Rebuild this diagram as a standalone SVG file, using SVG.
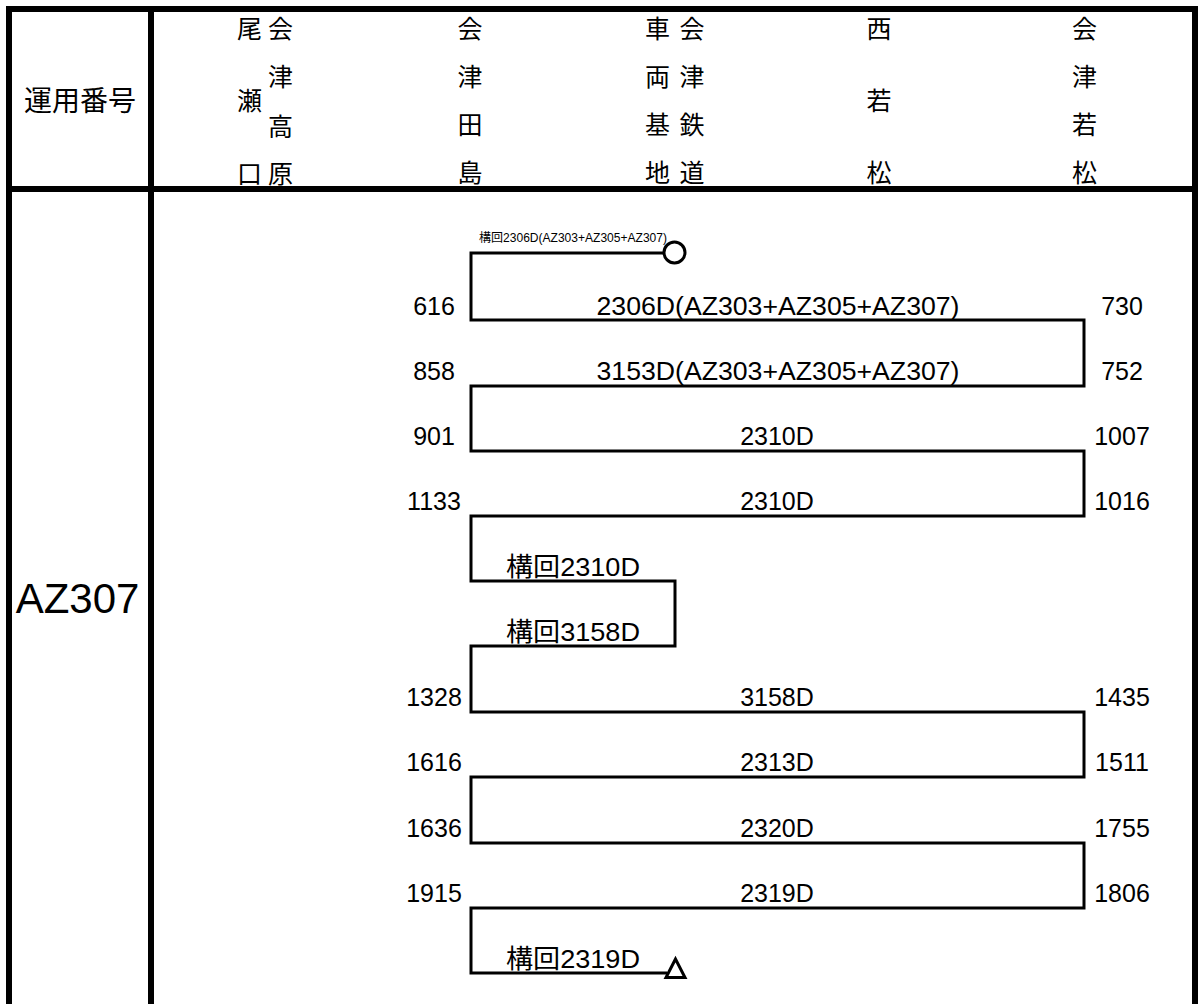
<svg xmlns="http://www.w3.org/2000/svg" width="1200" height="1004" viewBox="0 0 1200 1004">
<style>
.frame{stroke:#000;stroke-width:6;fill:none}
.route{stroke:#000;stroke-width:3;fill:none}
.mark{stroke:#000;stroke-width:3;fill:#fff}
.st{font-family:"Noto Sans CJK JP","Liberation Sans",sans-serif;font-size:25px;text-anchor:middle;dominant-baseline:central;fill:#000}
.hd{font-family:"Noto Sans CJK JP","Liberation Sans",sans-serif;font-size:28px;text-anchor:middle;dominant-baseline:central;fill:#000}
.t{font-family:"Liberation Sans","Noto Sans CJK JP",sans-serif;font-size:25px;text-anchor:middle;fill:#000}
.k{font-family:"Liberation Sans","Noto Sans CJK JP",sans-serif;font-size:26px;fill:#000}
.s{font-family:"Liberation Sans","Noto Sans CJK JP",sans-serif;font-size:12px;fill:#000}
.big{font-family:"Liberation Sans",sans-serif;font-size:42px;text-anchor:middle;fill:#000}
</style>
<rect width="1200" height="1004" fill="#fff"/>
<g id="table">
<path class="frame" d="M9,1004 V9 H1195 V1004 M9,189 H1195 M151,9 V1004"/>
</g>
<g id="header">
<text class="hd" x="80" y="98.5">運用番号</text>
<g id="st-oze">
<text class="st" x="249.5" y="26.5">尾</text>
<text class="st" x="249.5" y="98.5">瀬</text>
<text class="st" x="249.5" y="172">口</text>
<text class="st" x="280.5" y="26.5">会</text>
<text class="st" x="280.5" y="74.5">津</text>
<text class="st" x="280.5" y="124.5">高</text>
<text class="st" x="280.5" y="172">原</text>
</g>
<g id="st-tajima">
<text class="st" x="470" y="26.5">会</text>
<text class="st" x="470" y="74.5">津</text>
<text class="st" x="470" y="123">田</text>
<text class="st" x="470" y="171">島</text>
</g>
<g id="st-depot">
<text class="st" x="657.5" y="26.5">車</text>
<text class="st" x="657.5" y="74.5">両</text>
<text class="st" x="657.5" y="123">基</text>
<text class="st" x="657.5" y="171">地</text>
<text class="st" x="692" y="26.5">会</text>
<text class="st" x="692" y="74.5">津</text>
<text class="st" x="692" y="123">鉄</text>
<text class="st" x="692" y="171">道</text>
</g>
<g id="st-nishiwakamatsu">
<text class="st" x="879" y="26.5">西</text>
<text class="st" x="879" y="98.5">若</text>
<text class="st" x="879" y="171">松</text>
</g>
<g id="st-wakamatsu">
<text class="st" x="1084.5" y="26.5">会</text>
<text class="st" x="1084.5" y="74.5">津</text>
<text class="st" x="1084.5" y="123">若</text>
<text class="st" x="1084.5" y="171">松</text>
</g>
</g>
<g id="unit">
<text class="big" x="77.5" y="613">AZ307</text>
</g>
<g id="connectors">
<path class="route" d="M664,253 H471 V320 H1084 V386 H471 V451 H1084 V516 H471 V581 H675 V646 H471 V712 H1084 V777 H471 V843 H1084 V908 H471 V973 H667"/>
<circle class="mark" cx="674.5" cy="252.5" r="10.5"/>
<polygon class="mark" points="675.5,959 666,977.5 685,977.5"/>
</g>
<g id="labels">
<text class="s" x="479" y="242" textLength="188" lengthAdjust="spacingAndGlyphs">構回2306D(AZ303+AZ305+AZ307)</text>
<text class="t" x="778" y="315" textLength="363" lengthAdjust="spacingAndGlyphs">2306D(AZ303+AZ305+AZ307)</text>
<text class="t" x="778" y="380" textLength="363" lengthAdjust="spacingAndGlyphs">3153D(AZ303+AZ305+AZ307)</text>
<text class="t" x="777" y="445">2310D</text>
<text class="t" x="777" y="510">2310D</text>
<text class="k" x="506" y="576" textLength="134" lengthAdjust="spacingAndGlyphs">構回2310D</text>
<text class="k" x="506" y="641" textLength="134" lengthAdjust="spacingAndGlyphs">構回3158D</text>
<text class="t" x="777" y="706">3158D</text>
<text class="t" x="777" y="771">2313D</text>
<text class="t" x="777" y="837">2320D</text>
<text class="t" x="777" y="902">2319D</text>
<text class="k" x="506" y="968" textLength="134" lengthAdjust="spacingAndGlyphs">構回2319D</text>
</g>
<g id="times-left">
<text class="t" x="434" y="315">616</text>
<text class="t" x="434" y="380">858</text>
<text class="t" x="434" y="445">901</text>
<text class="t" x="434" y="510">1133</text>
<text class="t" x="434" y="706">1328</text>
<text class="t" x="434" y="771">1616</text>
<text class="t" x="434" y="837">1636</text>
<text class="t" x="434" y="902">1915</text>
</g>
<g id="times-right">
<text class="t" x="1122" y="315">730</text>
<text class="t" x="1122" y="380">752</text>
<text class="t" x="1122" y="445">1007</text>
<text class="t" x="1122" y="510">1016</text>
<text class="t" x="1122" y="706">1435</text>
<text class="t" x="1122" y="771">1511</text>
<text class="t" x="1122" y="837">1755</text>
<text class="t" x="1122" y="902">1806</text>
</g>
</svg>
